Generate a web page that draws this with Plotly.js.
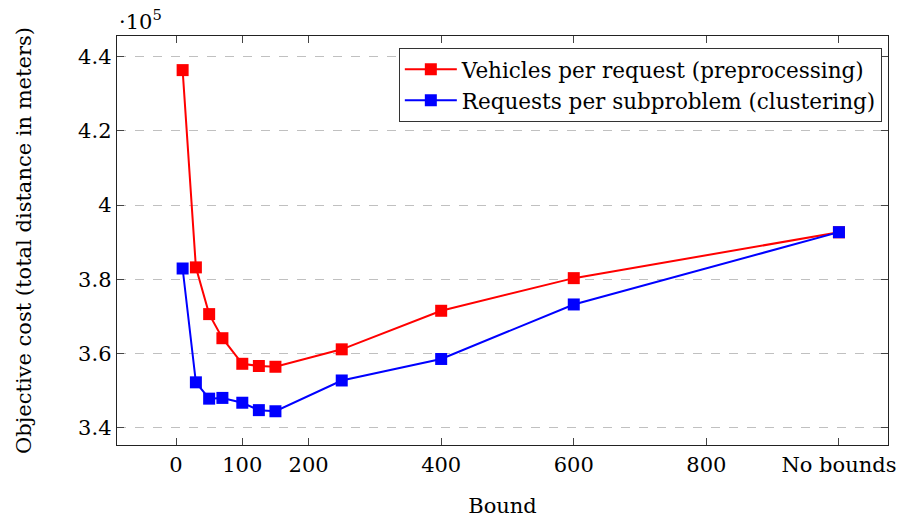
<!DOCTYPE html>
<html>
<head>
<meta charset="utf-8">
<script src="https://cdn.plot.ly/plotly-3.0.1.min.js"></script>
<style>
  html, body { margin: 0; padding: 0; background: #fff; }
  #chart { width: 902px; height: 518px; }
</style>
</head>
<body>
<div id="chart"></div>
<script>
// Bound values (1000 stands for the "No bounds" run)
const bounds = [10, 30, 50, 70, 100, 125, 150, 250, 400, 600, 1000];

// Objective cost, total distance in meters
const vehiclesPerRequest = [436400, 383200, 370600, 364100, 357200, 356600, 356400, 361100, 371500, 380300, 392650];
const requestsPerSubproblem = [382900, 352200, 347800, 348000, 346700, 344700, 344400, 352700, 358500, 373200, 392700];

// Axis tick positions and labels
const xTickVals = [0, 100, 200, 400, 600, 800, 1000];
const xTickText = ['0', '100', '200', '400', '600', '800', 'No bounds'];

const SCALE = 1e5;
const FONT = 'DejaVu Serif, Liberation Serif, serif';

const traces = [
  {
    name: 'Vehicles per request (preprocessing)',
    x: bounds,
    y: vehiclesPerRequest.map(v => v / SCALE),
    mode: 'lines+markers',
    line: { color: '#ff0000', width: 2 },
    marker: { symbol: 'square', size: 12, color: '#ff0000' }
  },
  {
    name: 'Requests per subproblem (clustering)',
    x: bounds,
    y: requestsPerSubproblem.map(v => v / SCALE),
    mode: 'lines+markers',
    line: { color: '#0000ff', width: 2 },
    marker: { symbol: 'square', size: 12, color: '#0000ff' }
  }
];

const layout = {
  width: 902,
  height: 518,
  margin: { l: 117, r: 14, t: 36, b: 73 },
  paper_bgcolor: '#fff',
  plot_bgcolor: '#fff',
  font: { family: FONT, size: 21, color: '#000' },
  showlegend: true,
  legend: {
    x: 0.992, y: 0.971, xanchor: 'right', yanchor: 'top',
    bgcolor: '#fff', bordercolor: '#333', borderwidth: 1,
    font: { family: FONT, size: 21.5, color: '#000' },
    itemwidth: 52,
    tracegroupgap: 0
  },
  xaxis: {
    range: [-89, 1074],
    tickvals: xTickVals,
    ticktext: xTickText,
    ticks: 'inside', ticklen: 7, tickcolor: '#444', tickwidth: 1,
    showline: true, linecolor: '#222', linewidth: 1.3, mirror: 'ticks',
    showgrid: false, zeroline: false,
    tickfont: { family: FONT, size: 21 },
    title: { text: 'Bound', font: { family: FONT, size: 21 }, standoff: 22 }
  },
  yaxis: {
    range: [3.353, 4.456],
    tick0: 3.4, dtick: 0.2,
    ticks: 'inside', ticklen: 7, tickcolor: '#444', tickwidth: 1,
    showline: true, linecolor: '#222', linewidth: 1.3, mirror: 'ticks',
    showgrid: true, gridcolor: '#c0c0c0', griddash: 'dash', gridwidth: 1,
    zeroline: false,
    tickfont: { family: FONT, size: 21 },
    title: { text: 'Objective cost (total distance in meters)', font: { family: FONT, size: 21 }, standoff: 40 }
  },
  annotations: [
    {
      xref: 'paper', yref: 'paper', x: 0, y: 1, xanchor: 'left', yanchor: 'bottom',
      yshift: 0, showarrow: false,
      text: '·10<sup>5</sup>', font: { family: FONT, size: 21, color: '#000' }
    }
  ]
};

Plotly.newPlot('chart', traces, layout, { displayModeBar: false, staticPlot: true });
</script>
</body>
</html>
